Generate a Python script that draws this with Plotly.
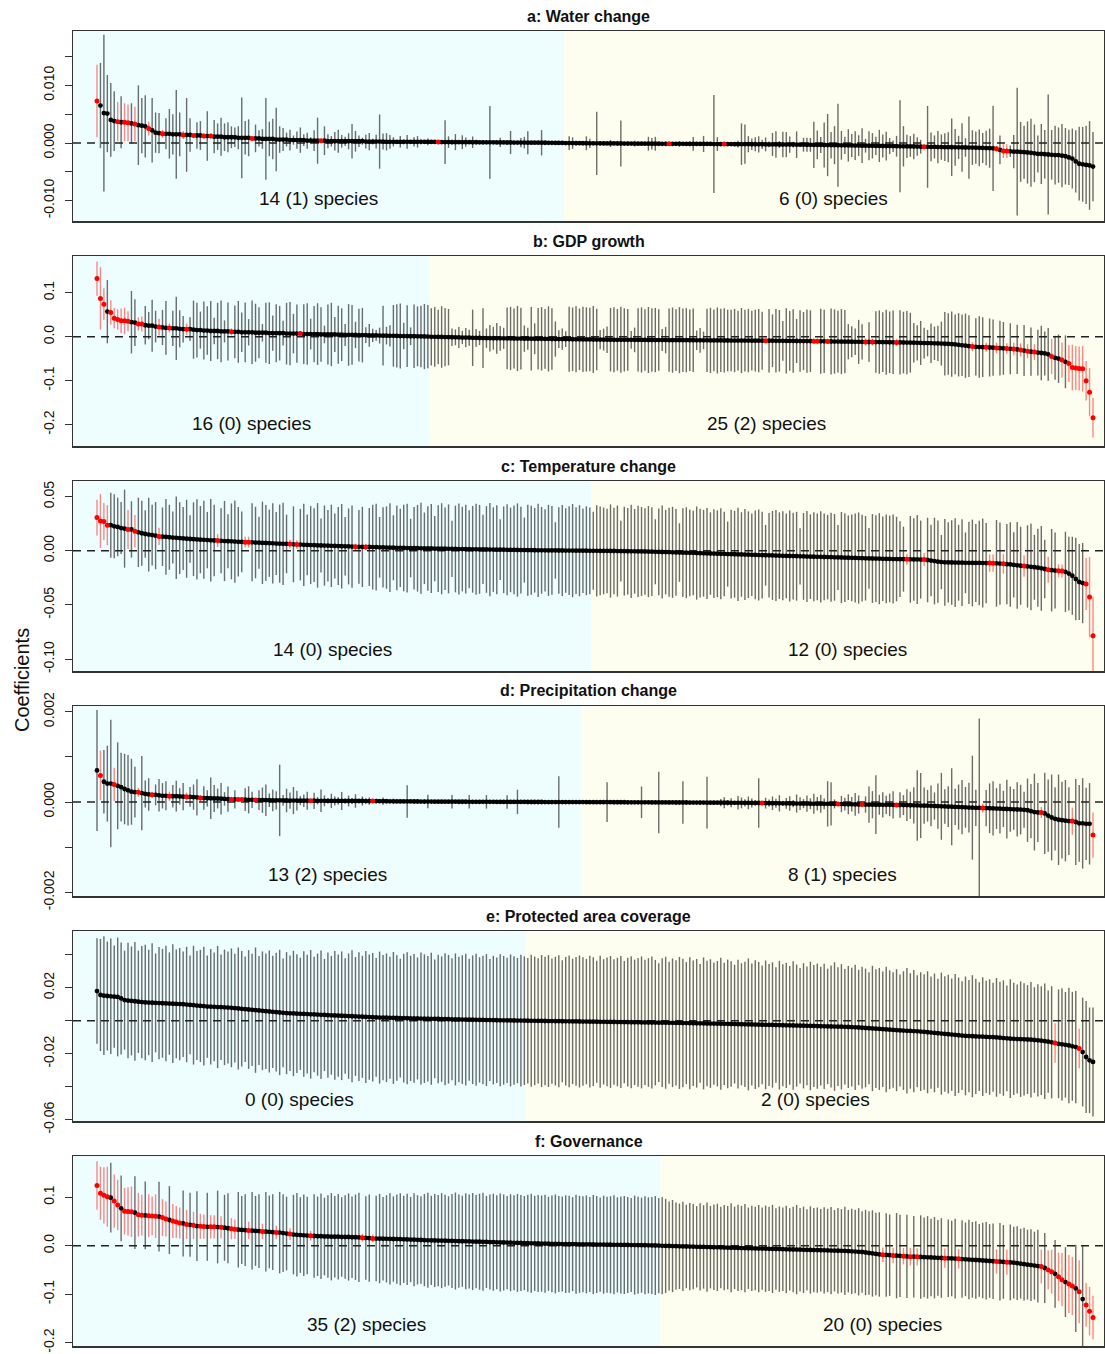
import plotly.graph_objects as go

# ---------------- DATA ----------------
# Values are stored in scaled units; UNIT gives the multiplier to real coefficient units.
TITLES = ["a: Water change", "b: GDP growth", "c: Temperature change",
          "d: Precipitation change", "e: Protected area coverage", "f: Governance"]
UNITS = [1e-4, 1e-3, 1e-3, 1e-5, 1e-3, 1e-3]
LEFT_LABELS = ["14 (1) species", "16 (0) species", "14 (0) species",
               "13 (2) species", "0 (0) species", "35 (2) species"]
RIGHT_LABELS = ["6 (0) species", "25 (2) species", "12 (0) species",
                "8 (1) species", "2 (0) species", "20 (0) species"]

# y-axis settings per panel
Y_RANGES = [(-0.01354, 0.01944), (-0.2484, 0.1834), (-0.1109, 0.0644),
            (-0.002077, 0.002126), (-0.0608, 0.0544), (-0.2068, 0.185)]
Y_TICKS = [[0.015, 0.010, 0.005, 0.0, -0.005, -0.010],
           [0.1, 0.0, -0.1, -0.2],
           [0.05, 0.0, -0.05, -0.10],
           [0.002, 0.001, 0.0, -0.001, -0.002],
           [0.04, 0.02, 0.0, -0.02, -0.04, -0.06],
           [0.1, 0.0, -0.1, -0.2]]
Y_TICKTEXT = [["", "0.010", "", "0.000", "", "-0.010"],
              ["0.1", "0.0", "-0.1", "-0.2"],
              ["0.05", "0.00", "-0.05", "-0.10"],
              ["0.002", "", "0.000", "", "-0.002"],
              ["", "0.02", "", "-0.02", "", "-0.06"],
              ["0.1", "0.0", "-0.1", "-0.2"]]

# ---- panel a: Water change (units 1e-4)
coef_a = [73, 65, 52, 51, 40, 38, 37, 36, 36, 35,
          34, 33, 31, 30, 29, 25, 22, 18, 17, 16,
          16, 16, 15, 15, 15, 14, 14, 14, 13, 13,
          13, 12, 12, 12, 11, 11, 11, 10, 10, 10,
          10, 9, 9, 9, 9, 8, 8, 8, 7, 7,
          7, 7, 6, 6, 6, 6, 5, 5, 5, 5,
          5, 4, 4, 4, 4, 4, 4, 3, 3, 3,
          3, 3, 3, 3, 3, 3, 3, 3, 2.5, 2.5,
          2.5, 2.5, 2.5, 2.5, 2, 2, 2, 2, 2, 2,
          2, 2, 2, 2, 2, 2, 2, 1.8, 1.8, 1.8,
          1.6, 1.6, 1.6, 1.5, 1.5, 1.5, 1.4, 1.4, 1.4, 1.3,
          1.3, 1.2, 1.2, 1.2, 1.1, 1.1, 1, 1, 1, 0.9,
          0.9, 0.8, 0.8, 0.7, 0.7, 0.6, 0.6, 0.5, 0.5, 0.4,
          0.4, 0.3, 0.3, 0.2, 0.1, 0.1, -0.1, -0.2, -0.2, -0.3,
          -0.3, -0.4, -0.4, -0.5, -0.5, -0.6, -0.6, -0.7, -0.7, -0.8,
          -0.8, -0.9, -0.9, -1, -1, -1, -1.1, -1.1, -1.2, -1.2,
          -1.2, -1.3, -1.3, -1.3, -1.4, -1.4, -1.4, -1.5, -1.5, -1.5,
          -1.5, -1.6, -1.6, -1.6, -1.6, -1.7, -1.7, -1.7, -1.7, -1.8,
          -1.8, -1.8, -1.9, -1.9, -1.9, -2, -2, -2, -2.1, -2.1,
          -2.2, -2.2, -2.3, -2.3, -2.4, -2.4, -2.5, -2.5, -2.6, -2.6,
          -2.7, -2.8, -2.8, -2.9, -3, -3, -3.1, -3.2, -3.3, -3.3,
          -3.4, -3.5, -3.6, -3.7, -3.8, -3.9, -4, -4.1, -4.2, -4.3,
          -4.4, -4.5, -4.6, -4.7, -4.8, -4.9, -5, -5.1, -5.2, -5.3,
          -5.4, -5.5, -5.6, -5.7, -5.8, -5.9, -6, -6.1, -6.2, -6.5,
          -6.6, -6.7, -6.8, -6.9, -7, -7.1, -7.2, -7.3, -7.4, -7.5,
          -7.6, -7.7, -7.8, -7.9, -8, -8.2, -8.4, -8.6, -8.8, -9,
          -9.3, -10, -12, -14, -14, -14.5, -15, -15, -15.5, -16,
          -16.5, -17, -18, -19, -19, -19.5, -20, -20.5, -21, -21,
          -22, -23, -25, -27, -32, -36, -37, -38, -39, -41]
half_a = [63, 74, 136, 67, 64, 52, 34, 45, 33, 32,
          35, 30, 69, 48, 54, 12, 56, 35, 35, 7,
          27, 43, 35, 77, 38, 7, 64, 29, 4, 23,
          25, 4, 43, 4, 29, 23, 33, 24, 26, 19,
          17, 20, 70, 29, 32, 3, 24, 14, 17, 71,
          30, 35, 55, 23, 20, 12, 18, 8, 15, 22,
          10, 14, 6, 18, 40, 2, 25, 12, 9, 16,
          20, 11, 8, 14, 30, 18, 10, 6, 12, 15,
          5, 12, 47, 14, 15, 12, 8, 3, 10, 4,
          12, 3, 8, 10, 4, 3, 6, 3, 2, 1,
          3, 38, 10, 4, 14, 3, 12, 8, 3, 10,
          2, 3, 4, 2, 63, 3, 2, 8, 2, 3,
          20, 2, 3, 8, 10, 20, 2, 3, 2, 22,
          2, 3, 2, 3, 2, 2, 3, 12, 10, 4,
          3, 2, 12, 8, 3, 55, 4, 3, 2, 6,
          3, 2, 40, 3, 4, 2, 5, 3, 2, 3,
          12, 10, 12, 3, 2, 4, 1, 3, 2, 5,
          3, 2, 4, 12, 3, 2, 14, 3, 2, 85,
          12, 3, 1, 3, 2, 4, 6, 36, 34, 14,
          10, 12, 14, 8, 12, 5, 20, 23, 6, 22,
          22, 14, 5, 23, 4, 12, 12, 12, 40, 25,
          14, 39, 54, 23, 33, 72, 25, 15, 28, 20,
          25, 18, 30, 12, 25, 22, 16, 28, 20, 25,
          14, 10, 18, 80, 35, 20, 18, 22, 16, 12,
          3, 71, 25, 20, 28, 22, 24, 26, 50, 32,
          20, 42, 16, 54, 30, 28, 32, 26, 30, 34,
          74, 5, 25, 12, 12, 10, 29, 111, 52, 46,
          54, 59, 50, 32, 52, 42, 104, 43, 51, 48,
          55, 49, 48, 52, 54, 64, 65, 68, 77, 60]
red_a = [0, 6, 8, 9, 11, 15, 19, 25, 28, 31, 33, 45, 65, 99,
         166, 182, 240, 261, 263, 264]

# ---- panel b: GDP growth (units 1e-3)
coef_b = [132, 87, 74, 57, 55, 42, 39, 36, 36, 35,
          33, 32, 29, 29, 26, 25, 25, 23, 22, 21,
          20, 20, 19, 19, 18, 17, 17, 17, 16, 15,
          15, 14, 14, 13, 13, 13, 12, 12, 12, 11,
          11, 11, 10, 10, 10, 10, 9, 9, 9, 9,
          8, 8, 8, 8, 8, 7, 7, 7, 7, 7,
          6, 6, 6, 6, 6, 5, 5, 5, 5, 5,
          4.5, 4.5, 4, 4, 4, 4, 3.5, 3.5, 3.5, 3,
          3, 3, 2.5, 2.5, 2.5, 2, 2, 2, 1.5, 1.5,
          1.2, 1, 1, 0.8, 0.6, 0.4, 0.2, -0.2, -0.3, -0.5,
          -0.7, -0.9, -1.1, -1.3, -1.5, -1.7, -1.9, -2.1, -2.3, -2.5,
          -2.7, -2.9, -3.1, -3.3, -3.4, -3.5, -3.6, -3.7, -3.8, -3.9,
          -4, -4.1, -4.2, -4.3, -4.4, -4.5, -4.6, -4.7, -4.8, -4.9,
          -5, -5.1, -5.2, -5.3, -5.4, -5.5, -5.6, -5.7, -5.8, -5.9,
          -6, -6.1, -6.2, -6.3, -6.4, -6.5, -6.6, -6.7, -6.8, -6.9,
          -7, -7, -7.1, -7.1, -7.2, -7.2, -7.3, -7.3, -7.4, -7.4,
          -7.5, -7.5, -7.6, -7.6, -7.7, -7.7, -7.8, -7.8, -7.9, -7.9,
          -8, -8, -8.1, -8.1, -8.2, -8.2, -8.3, -8.3, -8.4, -8.4,
          -8.5, -8.5, -8.6, -8.6, -8.7, -8.7, -8.8, -8.8, -8.9, -8.9,
          -9, -9, -9, -9.1, -9.1, -9.2, -9.2, -9.3, -9.3, -9.4,
          -9.5, -9.6, -9.7, -9.8, -9.9, -10, -10, -10.1, -10.2, -10.3,
          -10.4, -10.5, -10.7, -10.9, -11, -11.1, -11.2, -11.3, -11.4, -11.5,
          -11.6, -11.7, -11.8, -11.9, -12, -12.1, -12.2, -12.3, -12.4, -12.5,
          -12.6, -12.7, -12.9, -13, -13.2, -13.4, -13.6, -13.8, -14, -14.2,
          -14.4, -14.6, -14.8, -15, -15.3, -15.6, -16, -16.5, -17, -17.5,
          -18.5, -19.5, -20.5, -21.5, -22.5, -23, -23.5, -23.8, -24, -24.5,
          -25, -25.5, -26, -26.5, -27, -27.5, -28, -29, -30, -31.5,
          -33, -34, -35, -36, -37, -38, -40, -45, -48, -50,
          -53, -57, -61, -70, -71, -72, -73, -100, -126, -184]
half_b = [39, 71, 36, 72, 28, 23, 23, 28, 30, 23,
          71, 53, 15, 17, 44, 31, 59, 36, 19, 40,
          61, 10, 40, 72, 42, 30, 13, 27, 66, 62,
          42, 66, 55, 68, 30, 64, 70, 25, 66, 8,
          60, 70, 45, 68, 30, 72, 66, 58, 20, 68,
          70, 40, 66, 62, 28, 70, 72, 45, 66, 5,
          68, 70, 35, 64, 70, 62, 20, 68, 72, 40,
          66, 60, 25, 70, 68, 30, 60, 62, 18, 26,
          15, 12, 18, 68, 20, 24, 70, 72, 74, 30,
          70, 20, 72, 68, 70, 74, 72, 65, 68, 62,
          70, 66, 64, 20, 18, 24, 15, 22, 18, 64,
          20, 16, 68, 22, 30, 26, 35, 28, 24, 70,
          72, 68, 74, 70, 30, 25, 72, 35, 70, 72,
          68, 74, 70, 40, 20, 24, 18, 74, 72, 75,
          70, 74, 73, 72, 76, 70, 22, 25, 30, 72,
          74, 70, 75, 72, 70, 20, 28, 72, 74, 70,
          75, 72, 73, 70, 25, 30, 72, 74, 70, 75,
          72, 73, 70, 72, 22, 28, 20, 72, 74, 70,
          75, 72, 73, 70, 70, 72, 68, 74, 70, 72,
          68, 70, 72, 66, 5, 72, 60, 72, 70, 45,
          74, 68, 72, 50, 70, 66, 72, 70, 6, 6,
          74, 72, 6, 75, 73, 70, 74, 72, 40, 35,
          30, 50, 40, 8, 45, 8, 70, 72, 68, 74,
          70, 72, 8, 73, 70, 72, 68, 45, 40, 50,
          35, 30, 45, 38, 40, 50, 72, 70, 74, 68,
          72, 70, 73, 70, 10, 65, 70, 68, 10, 66,
          64, 12, 62, 60, 12, 58, 14, 56, 15, 58,
          16, 55, 18, 52, 62, 50, 60, 40, 50, 55,
          40, 60, 42, 52, 50, 50, 52, 45, 55, 45]
red_b = [0, 1, 2, 4, 5, 6, 7, 8, 9, 12, 13, 18, 21, 26, 39, 59,
         194, 208, 209, 212, 223, 225, 232, 254, 258, 261, 264, 266, 268,
         270, 272, 277, 280, 282, 283, 284, 285, 286, 287, 288, 289]

# ---- panel c: Temperature change (units 1e-3)
coef_c = [30.7, 27.5, 27, 23.6, 23.6, 22.6, 22, 21, 20.4, 19.7,
          19.7, 18, 17, 16.2, 15.5, 15, 14.5, 14, 13.3, 13,
          12.8, 12.5, 12.2, 12, 11.7, 11.4, 11.1, 10.9, 10.7, 10.5,
          10.3, 10.1, 9.9, 9.7, 9.5, 9.4, 9.2, 9, 8.8, 8.7,
          8.5, 8.3, 8.2, 8, 8, 7.8, 7.6, 7.5, 7.3, 7.2,
          7, 6.9, 6.7, 6.6, 6.4, 6.3, 6.2, 6, 5.8, 5.7,
          5.5, 5.4, 5.3, 5.2, 5, 4.9, 4.8, 4.7, 4.6, 4.5,
          4.4, 4.2, 4.1, 4, 3.9, 3.7, 3.7, 3.6, 3.6, 3.5,
          3.4, 3.3, 3.2, 3.1, 3, 2.9, 2.8, 2.7, 2.7, 2.6,
          2.5, 2.5, 2.4, 2.4, 2.3, 2.3, 2.2, 2.1, 2, 2,
          1.9, 1.9, 1.8, 1.8, 1.7, 1.6, 1.6, 1.5, 1.5, 1.4,
          1.4, 1.3, 1.3, 1.2, 1.1, 1.1, 1, 1, 0.95, 0.9,
          0.85, 0.8, 0.75, 0.7, 0.65, 0.6, 0.55, 0.5, 0.47, 0.44,
          0.41, 0.38, 0.35, 0.32, 0.29, 0.26, 0.23, 0.2, 0.17, 0.14,
          0.11, 0.08, 0.05, 0.02, -0.02, -0.05, -0.08, -0.11, -0.14, -0.17,
          -0.2, -0.25, -0.3, -0.35, -0.4, -0.45, -0.5, -0.55, -0.6, -0.65,
          -0.7, -0.8, -0.9, -1, -1.1, -1.2, -1.3, -1.4, -1.5, -1.6,
          -1.7, -1.8, -1.9, -2, -2.1, -2.2, -2.3, -2.4, -2.5, -2.6,
          -2.7, -2.8, -2.9, -3, -3.1, -3.2, -3.3, -3.4, -3.5, -3.6,
          -3.7, -3.8, -3.9, -4, -4.1, -4.2, -4.3, -4.4, -4.5, -4.6,
          -4.7, -4.8, -4.9, -5, -5.1, -5.2, -5.3, -5.4, -5.5, -5.6,
          -5.6, -5.7, -5.8, -5.9, -6, -6.1, -6.2, -6.3, -6.4, -6.5,
          -6.6, -6.7, -6.8, -6.9, -7, -7.1, -7.2, -7.3, -7.4, -7.5,
          -7.5, -7.6, -7.6, -7.7, -7.7, -7.8, -7.9, -8, -8, -8.1,
          -8.1, -8.5, -9, -9.5, -10, -10.4, -10.6, -10.7, -10.8, -10.9,
          -11, -11, -11.1, -11.1, -11.2, -11.2, -11.2, -11.3, -11.3, -11.3,
          -11.4, -11.6, -11.8, -12, -12.3, -12.6, -13, -13.4, -13.8, -14,
          -14.4, -14.8, -15.2, -15.6, -16.2, -16.8, -17.5, -17.9, -18.2, -18.4,
          -18.6, -19.4, -21, -23, -26, -28.8, -29.8, -30.7, -42.7, -78.3]
half_c = [16.5, 25, 17, 18.6, 30, 29.5, 27, 24, 36, 18,
          26, 15, 32, 30, 22, 34, 28, 31, 8, 27,
          35, 30, 24, 38, 33, 29, 36, 22, 34, 37,
          31, 36, 26, 38, 33, 6, 30, 37, 25, 35,
          38, 32, 28, 5, 5, 36, 33, 24, 38, 35,
          31, 37, 29, 36, 38, 27, 4, 35, 4, 33,
          38, 28, 36, 34, 39, 25, 37, 33, 38, 30,
          36, 39, 27, 35, 38, 3, 34, 37, 3, 36,
          39, 40, 28, 37, 38, 41, 30, 39, 36, 40,
          41, 27, 38, 40, 42, 33, 39, 41, 30, 40,
          42, 38, 41, 26, 40, 42, 39, 41, 36, 40,
          42, 41, 32, 40, 43, 39, 41, 28, 40, 42,
          39, 41, 43, 40, 30, 42, 41, 39, 43, 40,
          38, 42, 41, 26, 40, 42, 39, 41, 43, 40,
          42, 39, 41, 40, 36, 42, 41, 40, 39, 43,
          40, 42, 28, 41, 40, 43, 39, 42, 41, 40,
          42, 41, 30, 40, 43, 39, 41, 42, 40, 27,
          41, 42, 40, 39, 43, 41, 40, 42, 38, 41,
          40, 42, 39, 30, 41, 40, 43, 39, 42, 40,
          38, 41, 42, 40, 28, 39, 41, 42, 40, 41,
          39, 42, 40, 41, 26, 40, 42, 39, 41, 40,
          42, 40, 39, 41, 40, 30, 42, 41, 39, 40,
          41, 42, 40, 39, 28, 41, 40, 42, 39, 41,
          40, 41, 39, 35, 30, 5, 40, 38, 41, 36,
          6, 39, 33, 40, 38, 25, 40, 37, 39, 41,
          35, 40, 28, 38, 40, 36, 39, 41, 37, 8,
          8, 40, 38, 9, 37, 39, 30, 40, 36, 10,
          38, 40, 30, 36, 39, 27, 12, 38, 35, 6,
          6, 37, 34, 36, 38, 35, 37, 24, 37, 36]
red_c = [0, 1, 2, 3, 9, 11, 18, 35, 43, 44, 56, 58, 75, 78,
         235, 240, 259, 260, 263, 269, 276, 279, 280, 287, 288, 289]

# ---- panel d: Precipitation change (units 1e-5)
coef_d = [70, 59, 45, 41, 41, 39, 36, 33, 29, 26,
          23, 22, 22, 20, 18, 17, 16, 16, 15, 14,
          14, 13, 13, 13, 12.5, 12, 12, 11.5, 11, 10.5,
          9, 9, 8.5, 8.5, 8, 8, 7.5, 7, 6.5, 6,
          6, 6, 6, 5.5, 5, 5, 4.6, 4.5, 4.3, 4.2,
          4.1, 4, 3.9, 3.8, 3.7, 3.6, 3.5, 3.4, 3.3, 3.2,
          3.1, 3.05, 3, 2.95, 2.9, 2.85, 2.8, 2.75, 2.7, 2.65,
          2.6, 2.55, 2.5, 2.5, 2.45, 2.45, 2.4, 2.4, 2.35, 2.35,
          2.3, 2.2, 2.1, 2, 1.9, 1.8, 1.7, 1.6, 1.55, 1.5,
          1.45, 1.4, 1.35, 1.3, 1.25, 1.2, 1.15, 1.1, 1.05, 1,
          0.97, 0.94, 0.91, 0.88, 0.85, 0.82, 0.79, 0.76, 0.73, 0.7,
          0.67, 0.64, 0.61, 0.58, 0.55, 0.52, 0.49, 0.46, 0.43, 0.4,
          0.38, 0.36, 0.34, 0.32, 0.3, 0.28, 0.26, 0.24, 0.22, 0.2,
          0.18, 0.16, 0.14, 0.12, 0.1, 0.09, 0.08, 0.06, 0.05, 0.03,
          0.01, -0.02, -0.05, -0.08, -0.1, -0.13, -0.16, -0.19, -0.22, -0.25,
          -0.28, -0.31, -0.34, -0.37, -0.4, -0.43, -0.46, -0.49, -0.52, -0.55,
          -0.58, -0.61, -0.64, -0.67, -0.7, -0.73, -0.76, -0.79, -0.82, -0.85,
          -0.88, -0.91, -0.94, -0.97, -1, -1.05, -1.1, -1.15, -1.2, -1.25,
          -1.3, -1.35, -1.4, -1.45, -1.5, -1.55, -1.6, -1.65, -1.7, -1.75,
          -1.8, -1.9, -2, -2.2, -2.3, -2.4, -2.5, -2.6, -2.7, -2.8,
          -2.9, -3, -3.1, -3.2, -3.3, -3.4, -3.5, -3.6, -3.7, -3.8,
          -3.8, -3.9, -3.9, -4, -4, -4.1, -4.3, -4.5, -4.7, -4.9,
          -5.1, -5.3, -5.4, -5.5, -5.6, -5.7, -5.8, -5.9, -6, -6.1,
          -6.1, -6.2, -6.2, -6.4, -6.6, -6.8, -7, -7.2, -7.4, -7.6,
          -7.8, -8, -8.3, -8.6, -9, -9.3, -9.6, -10, -10.3, -10.6,
          -11, -11.3, -11.6, -12, -12.3, -12.6, -12.8, -13, -13.3, -13.6,
          -14, -14.3, -14.6, -15, -15.3, -15.6, -16, -16.3, -16.6, -17,
          -18, -20, -22, -23, -23, -25, -30, -34, -37, -39,
          -40, -41, -42, -42, -44, -47, -47, -48, -48, -73]
half_d = [134, 55, 70, 84, 141, 37, 96, 76, 78, 78,
          73, 56, 10, 82, 30, 36, 7, 23, 36, 28,
          32, 10, 25, 34, 18, 30, 9, 22, 28, 40,
          7, 26, 18, 46, 30, 22, 35, 15, 28, 4,
          20, 4, 4, 25, 30, 18, 3, 22, 28, 35,
          15, 24, 20, 79, 12, 26, 18, 30, 22, 10,
          14, 20, 2, 18, 8, 25, 12, 6, 16, 10,
          8, 20, 5, 12, 6, 15, 4, 10, 6, 8,
          1.5, 5, 3, 8, 4, 3, 6, 2, 4, 3,
          36, 3, 4, 2, 3, 5, 15, 2, 3, 2,
          4, 3, 2, 15, 3, 2, 4, 3, 15, 2,
          3, 2, 4, 15, 3, 2, 3, 2, 4, 15,
          3, 2, 27, 2, 3, 4, 2, 3, 2, 4,
          3, 2, 4, 3, 57, 3, 2, 2, 3, 2,
          2, 3, 2, 4, 3, 2, 3, 2, 44, 3,
          4, 3, 2, 3, 5, 3, 2, 4, 35, 3,
          2, 4, 3, 68, 3, 2, 5, 3, 4, 2,
          47, 3, 4, 2, 3, 5, 3, 57, 2, 4,
          3, 8, 12, 6, 10, 4, 15, 12, 8, 14,
          10, 6, 55, 2, 12, 8, 15, 10, 18, 6,
          12, 16, 8, 20, 14, 10, 18, 12, 22, 15,
          20, 12, 50, 48, 10, 2.5, 18, 14, 22, 16,
          25, 20, 3, 18, 40, 30, 65, 22, 28, 20,
          25, 30, 4, 28, 22, 35, 30, 40, 78, 72,
          40, 35, 45, 30, 50, 74, 38, 45, 85, 40,
          50, 60, 45, 55, 115, 40, 198, 10, 40, 55,
          60, 45, 55, 40, 65, 50, 45, 60, 55, 40,
          70, 60, 85, 65, 12, 90, 80, 95, 70, 100,
          85, 90, 75, 30, 95, 85, 100, 80, 90, 50]
red_d = [1, 5, 12, 16, 21, 26, 30, 39, 41, 42, 46, 62, 80,
         193, 215, 222, 232, 257, 274, 283, 289]

# ---- panel e: Protected area coverage (units 1e-3)
coef_e = [18, 15.6, 15.2, 15, 14.8, 14.6, 14.4, 13.5, 12.5, 12.2,
          12, 11.8, 11.5, 11.3, 11.1, 11, 10.9, 10.8, 10.7, 10.6,
          10.5, 10.4, 10.3, 10.2, 10.1, 10, 9.8, 9.6, 9.4, 9.2,
          9, 8.8, 8.6, 8.5, 8.4, 8.3, 8.2, 8.1, 8, 7.8,
          7.6, 7.4, 7.2, 7, 6.8, 6.6, 6.4, 6.2, 6, 5.8,
          5.6, 5.4, 5.2, 5, 4.8, 4.6, 4.5, 4.4, 4.3, 4.2,
          4.1, 4, 3.9, 3.8, 3.7, 3.6, 3.5, 3.4, 3.3, 3.2,
          3.1, 3, 2.9, 2.8, 2.7, 2.6, 2.5, 2.4, 2.3, 2.2,
          2.1, 2, 1.9, 1.85, 1.8, 1.75, 1.7, 1.65, 1.6, 1.55,
          1.5, 1.45, 1.4, 1.35, 1.3, 1.25, 1.2, 1.15, 1.1, 1.05,
          1, 0.95, 0.9, 0.85, 0.8, 0.75, 0.7, 0.66, 0.62, 0.58,
          0.54, 0.5, 0.46, 0.42, 0.38, 0.34, 0.3, 0.27, 0.24, 0.21,
          0.18, 0.14, 0.1, 0.06, 0.02, -0.02, -0.05, -0.08, -0.11, -0.14,
          -0.17, -0.2, -0.23, -0.26, -0.29, -0.32, -0.35, -0.38, -0.41, -0.44,
          -0.47, -0.5, -0.53, -0.56, -0.59, -0.62, -0.65, -0.68, -0.71, -0.74,
          -0.77, -0.8, -0.83, -0.86, -0.89, -0.92, -0.95, -0.98, -1.01, -1.04,
          -1.07, -1.1, -1.13, -1.16, -1.19, -1.22, -1.25, -1.28, -1.31, -1.35,
          -1.4, -1.44, -1.48, -1.52, -1.56, -1.6, -1.64, -1.68, -1.72, -1.76,
          -1.8, -1.85, -1.9, -1.95, -2, -2.05, -2.1, -2.15, -2.2, -2.25,
          -2.3, -2.35, -2.4, -2.45, -2.5, -2.55, -2.6, -2.65, -2.7, -2.75,
          -2.8, -2.85, -2.9, -2.95, -3, -3.05, -3.1, -3.15, -3.2, -3.3,
          -3.35, -3.4, -3.45, -3.5, -3.55, -3.6, -3.65, -3.7, -3.8, -3.9,
          -4, -4.1, -4.25, -4.4, -4.55, -4.7, -4.85, -5, -5.15, -5.3,
          -5.45, -5.6, -5.75, -5.9, -6, -6.1, -6.2, -6.3, -6.4, -6.6,
          -6.8, -7, -7.2, -7.4, -7.6, -7.8, -8, -8.2, -8.4, -8.6,
          -8.8, -9, -9.2, -9.3, -9.4, -9.5, -9.6, -9.7, -9.8, -9.9,
          -10, -10.1, -10.3, -10.5, -10.7, -10.9, -11, -11.1, -11.2, -11.3,
          -11.4, -11.5, -11.7, -11.9, -12.1, -12.4, -12.7, -13.1, -13.5, -14,
          -14.3, -14.6, -15, -15.5, -16, -16.8, -19, -22, -24, -25]
half_e = [32, 34, 36, 33, 35, 31, 36, 34, 30, 35,
          33, 36, 31, 34, 35, 32, 36, 30, 34, 33,
          35, 31, 36, 33, 34, 32, 35, 30, 36, 33,
          34, 36, 31, 35, 33, 37, 32, 35, 34, 36,
          33, 37, 35, 32, 36, 34, 38, 33, 36, 35,
          37, 34, 36, 38, 33, 37, 35, 38, 36, 34,
          38, 36, 39, 35, 37, 39, 34, 38, 36, 39,
          37, 39, 35, 38, 40, 36, 39, 37, 40, 38,
          39, 36, 40, 38, 39, 37, 40, 38, 36, 39,
          40, 38, 39, 37, 40, 39, 38, 40, 36, 39,
          38, 40, 39, 37, 40, 38, 39, 40, 37, 39,
          40, 38, 39, 40, 37, 39, 38, 40, 39, 38,
          40, 39, 38, 40, 39, 38, 40, 39, 38, 40,
          39, 40, 38, 39, 40, 37, 39, 40, 38, 39,
          40, 39, 38, 40, 39, 37, 40, 38, 39, 40,
          38, 39, 40, 37, 39, 40, 38, 39, 40, 38,
          39, 40, 38, 36, 39, 40, 37, 39, 38, 40,
          39, 37, 40, 38, 39, 36, 40, 38, 39, 37,
          38, 40, 37, 39, 38, 36, 39, 37, 38, 40,
          37, 39, 38, 36, 39, 37, 38, 35, 39, 37,
          38, 36, 39, 37, 35, 38, 36, 39, 37, 38,
          36, 38, 35, 37, 39, 36, 38, 35, 37, 36,
          38, 35, 37, 36, 34, 38, 36, 37, 35, 38,
          36, 35, 37, 34, 36, 38, 35, 37, 34, 36,
          35, 37, 34, 36, 33, 37, 35, 36, 34, 37,
          35, 33, 36, 34, 37, 35, 33, 36, 34, 35,
          33, 36, 34, 35, 32, 36, 34, 33, 35, 34,
          33, 35, 32, 34, 33, 35, 31, 34, 12, 33,
          34, 32, 35, 33, 34, 12, 33, 34, 32, 33]
red_e = [278, 285]

# ---- panel f: Governance (units 1e-3)
coef_f = [124, 108, 104, 101, 99, 92, 84, 77, 71, 70.5,
          70, 68, 64, 63, 62.5, 62, 61.5, 61, 60, 58,
          55, 53, 51, 49, 47, 46, 44, 43, 42, 40.5,
          40, 39.5, 39, 39, 39, 38.5, 38, 37, 36, 35,
          34, 33, 32.5, 32, 31.5, 31, 30.5, 30, 29.5, 29,
          28.5, 28, 27.5, 27, 26, 25, 24, 23, 22.5, 22,
          21.5, 21, 20.5, 20, 19.5, 19.5, 19, 19, 18.5, 18.5,
          18.5, 18, 18, 18, 17.5, 17.5, 17, 16.5, 16, 15.5,
          15, 14.8, 14.6, 14.4, 14.2, 14, 13.8, 13.6, 13.4, 13.2,
          13, 12.7, 12.4, 12.1, 11.8, 11.5, 11.2, 11, 10.8, 10.6,
          10.4, 10.2, 10, 9.8, 9.6, 9.4, 9.2, 9, 8.8, 8.6,
          8.4, 8.2, 8, 7.8, 7.5, 7.2, 7, 6.8, 6.6, 6.4,
          6.2, 6, 5.8, 5.6, 5.4, 5.2, 5, 4.8, 4.6, 4.4,
          4.2, 4, 3.8, 3.6, 3.5, 3.4, 3.3, 3.2, 3.1, 3,
          2.9, 2.8, 2.7, 2.6, 2.5, 2.4, 2.3, 2.2, 2.1, 2,
          1.9, 1.8, 1.7, 1.6, 1.5, 1.4, 1.3, 1.2, 1.1, 1,
          0.8, 0.6, 0.4, 0.2, -0.2, -0.4, -0.6, -0.8, -1, -1.2,
          -1.4, -1.6, -1.8, -2, -2.2, -2.4, -2.6, -2.8, -3, -3.2,
          -3.4, -3.6, -3.8, -4, -4.2, -4.4, -4.6, -4.8, -5, -5.2,
          -5.4, -5.6, -5.8, -6, -6.2, -6.4, -6.6, -6.8, -7, -7.2,
          -7.4, -7.6, -7.8, -8, -8.2, -8.4, -8.6, -8.8, -9, -9.2,
          -9.4, -9.6, -9.8, -10, -10.2, -10.4, -10.6, -10.8, -11.2, -11.6,
          -12, -12.5, -13, -14, -15, -16, -17, -18, -18.5, -19,
          -19.5, -20, -20.5, -21, -21.5, -22, -22.5, -22.7, -23, -23.3,
          -23.6, -24, -24.3, -24.6, -25, -25.3, -25.6, -26, -26.3, -26.6,
          -27, -27.5, -28, -28.5, -29, -29.5, -30, -30.5, -31, -31.5,
          -32, -32.5, -33, -33.5, -34, -34.5, -35, -36, -37, -38,
          -39, -40, -41, -42, -43, -46, -50, -53.6, -58, -64,
          -70, -75, -79, -83, -88, -95, -110, -122, -135, -148]
half_f = [50, 55, 58, 62, 72, 55, 52, 68, 48, 50,
          52, 75, 45, 42, 70, 44, 40, 45, 72, 38,
          36, 70, 35, 33, 32, 68, 30, 66, 28, 72,
          26, 25, 70, 24, 24, 75, 23, 68, 72, 22,
          20, 78, 70, 74, 18, 80, 72, 76, 16, 82,
          75, 78, 14, 84, 80, 76, 12, 82, 86, 78,
          84, 80, 10, 86, 82, 88, 80, 85, 90, 84,
          88, 82, 86, 90, 84, 88, 92, 8, 86, 90,
          8, 88, 92, 86, 90, 94, 88, 92, 95, 90,
          94, 88, 96, 92, 90, 95, 98, 92, 96, 94,
          98, 95, 92, 97, 100, 96, 94, 99, 97, 100,
          96, 99, 101, 95, 98, 100, 97, 101, 99, 96,
          100, 98, 101, 99, 97, 100, 102, 98, 100, 99,
          101, 97, 100, 102, 99, 98, 101, 100, 97, 102,
          100, 99, 101, 98, 102, 100, 97, 101, 99, 100,
          102, 98, 100, 101, 99, 97, 102, 100, 98, 101,
          99, 100, 102, 98, 100, 97, 92, 95, 90, 88,
          92, 86, 90, 88, 84, 90, 86, 92, 85, 88,
          90, 84, 88, 86, 92, 85, 89, 87, 91, 84,
          88, 86, 90, 85, 89, 87, 91, 84, 88, 86,
          90, 85, 88, 92, 86, 89, 84, 90, 87, 88,
          85, 89, 86, 90, 84, 88, 86, 91, 85, 88,
          86, 90, 84, 88, 86, 89, 85, 87, 15, 86,
          84, 16, 88, 85, 17, 86, 18, 84, 18, 86,
          82, 85, 80, 84, 78, 82, 20, 80, 78, 82,
          20, 80, 76, 82, 78, 80, 75, 78, 80, 76,
          78, 25, 80, 76, 26, 78, 74, 76, 72, 75,
          72, 74, 70, 75, 35, 72, 40, 45, 70, 50,
          55, 72, 60, 60, 90, 65, 110, 45, 50, 45]
red_f = [0, 1, 2, 3, 5, 6, 8, 9, 10, 12, 13, 15, 16, 17, 19, 20, 22, 23, 24,
         26, 28, 30, 31, 33, 34, 36, 39, 40, 44, 48, 52, 56, 62, 77, 80,
         228, 231, 234, 236, 238, 246, 250, 261, 264, 274, 276, 277, 279,
         280, 282, 283, 285, 287, 288, 289]

COEFS = [coef_a, coef_b, coef_c, coef_d, coef_e, coef_f]
HALFS = [half_a, half_b, half_c, half_d, half_e, half_f]
REDS = [red_a, red_b, red_c, red_d, red_e, red_f]

for i, (c, h) in enumerate(zip(COEFS, HALFS)):
    if len(c) != len(h):
        raise SystemExit(f"panel {i}: coef {len(c)} half {len(h)}")

# ---------------- LAYOUT GEOMETRY (pixels) ----------------
W, H = 1105, 1354
PLOT_L, PLOT_R = 73, 1104
FIRST_PX, LAST_PX = 97, 1093
PANEL_TOPS = [31, 256, 481, 706, 931, 1156]
PANEL_H = 190
LEFT_BG = "#EEFEFF"
RIGHT_BG = "#FEFEF0"
BAR_GREY = "rgba(40,40,40,0.68)"
BAR_RED = "rgba(255,40,40,0.55)"
FONT = "Liberation Sans, Arial, Helvetica, sans-serif"

fig = go.Figure()
layout = dict(width=W, height=H, autosize=False, margin=dict(l=0, r=0, t=0, b=0, pad=0),
              paper_bgcolor="white", plot_bgcolor="rgba(0,0,0,0)",
              showlegend=False, font=dict(family=FONT, color="black"))
shapes, annotations = [], []

for p in range(6):
    coef = [v * UNITS[p] for v in COEFS[p]]
    half = [v * UNITS[p] for v in HALFS[p]]
    reds = set(REDS[p])
    n = len(coef)
    xs = list(range(n))
    spacing = (LAST_PX - FIRST_PX) / (n - 1)
    xr = [-(FIRST_PX - PLOT_L) / spacing, (n - 1) + (PLOT_R - LAST_PX) / spacing]
    k = sum(1 for v in coef if v > 0)
    boundary = k - 0.5

    ax = "" if p == 0 else str(p + 1)
    xa, ya = "x" + ax, "y" + ax
    top = PANEL_TOPS[p]
    layout["xaxis" + ax] = dict(domain=[PLOT_L / W, PLOT_R / W], range=xr, anchor=ya,
                                showticklabels=False, ticks="", showgrid=False, zeroline=False,
                                automargin=False, fixedrange=True,
                                showline=True, mirror=True, linecolor="#333", linewidth=1.5)
    layout["yaxis" + ax] = dict(domain=[1 - (top + PANEL_H) / H, 1 - top / H], range=list(Y_RANGES[p]),
                                anchor=xa, tickvals=Y_TICKS[p], ticktext=Y_TICKTEXT[p],
                                tickangle=-90, ticks="outside", ticklen=7, tickcolor="#333",
                                ticklabelstandoff=5, automargin=False, fixedrange=True,
                                tickfont=dict(size=14, family=FONT, color="#111"),
                                showgrid=False, zeroline=False, showline=True, mirror=True,
                                linecolor="#333", linewidth=1.5)

    # background regions
    shapes.append(dict(type="rect", xref=xa, yref=ya + " domain", x0=xr[0], x1=boundary,
                       y0=0, y1=1, fillcolor=LEFT_BG, line=dict(width=0), layer="below"))
    shapes.append(dict(type="rect", xref=xa, yref=ya + " domain", x0=boundary, x1=xr[1],
                       y0=0, y1=1, fillcolor=RIGHT_BG, line=dict(width=0), layer="below"))

    # CI segments
    gx, gy, rx, ry = [], [], [], []
    for i in xs:
        lo, hi = coef[i] - half[i], coef[i] + half[i]
        if i in reds:
            rx += [i, i, None]; ry += [lo, hi, None]
        else:
            gx += [i, i, None]; gy += [lo, hi, None]
    fig.add_trace(go.Scatter(x=gx, y=gy, mode="lines", line=dict(color=BAR_GREY, width=1.4),
                             xaxis=xa, yaxis=ya, hoverinfo="skip"))
    fig.add_trace(go.Scatter(x=rx, y=ry, mode="lines", line=dict(color=BAR_RED, width=1.4),
                             xaxis=xa, yaxis=ya, hoverinfo="skip"))
    # zero reference line
    fig.add_trace(go.Scatter(x=xr, y=[0, 0], mode="lines",
                             line=dict(color="#222", width=1.5, dash="8px,6px"),
                             xaxis=xa, yaxis=ya, hoverinfo="skip"))
    # point estimates
    bx = [i for i in xs if i not in reds]
    fig.add_trace(go.Scatter(x=bx, y=[coef[i] for i in bx], mode="markers",
                             marker=dict(color="black", size=4.8, line=dict(width=0)),
                             xaxis=xa, yaxis=ya, hoverinfo="skip"))
    rxs = [i for i in xs if i in reds]
    fig.add_trace(go.Scatter(x=rxs, y=[coef[i] for i in rxs], mode="markers",
                             marker=dict(color="#FF0000", size=5, line=dict(width=0)),
                             xaxis=xa, yaxis=ya, hoverinfo="skip"))

    # panel title
    annotations.append(dict(text="<b>" + TITLES[p] + "</b>", xref=xa + " domain", x=0.5,
                            yref="paper", y=1 - (top - 15) / H, showarrow=False,
                            xanchor="center", yanchor="middle",
                            font=dict(size=16, family=FONT, color="#111")))
    # species labels
    annotations.append(dict(text=LEFT_LABELS[p], xref=xa, x=(xr[0] + boundary) / 2,
                            yref=ya + " domain", y=22 / PANEL_H, showarrow=False,
                            xanchor="center", yanchor="middle",
                            font=dict(size=19, family=FONT, color="#111")))
    annotations.append(dict(text=RIGHT_LABELS[p], xref=xa, x=(boundary + xr[1]) / 2,
                            yref=ya + " domain", y=22 / PANEL_H, showarrow=False,
                            xanchor="center", yanchor="middle",
                            font=dict(size=19, family=FONT, color="#111")))

annotations.append(dict(text="Coefficients", xref="paper", yref="paper", x=22 / W,
                        y=1 - 680 / H, textangle=-90, showarrow=False,
                        xanchor="center", yanchor="middle",
                        font=dict(size=20, family=FONT, color="#111")))

layout["shapes"] = shapes
layout["annotations"] = annotations
fig.update_layout(**layout)
fig.write_html("out.html", config={"displayModeBar": False, "staticPlot": True},
               post_script="document.body.style.margin='0px';document.body.style.overflow='hidden';")
